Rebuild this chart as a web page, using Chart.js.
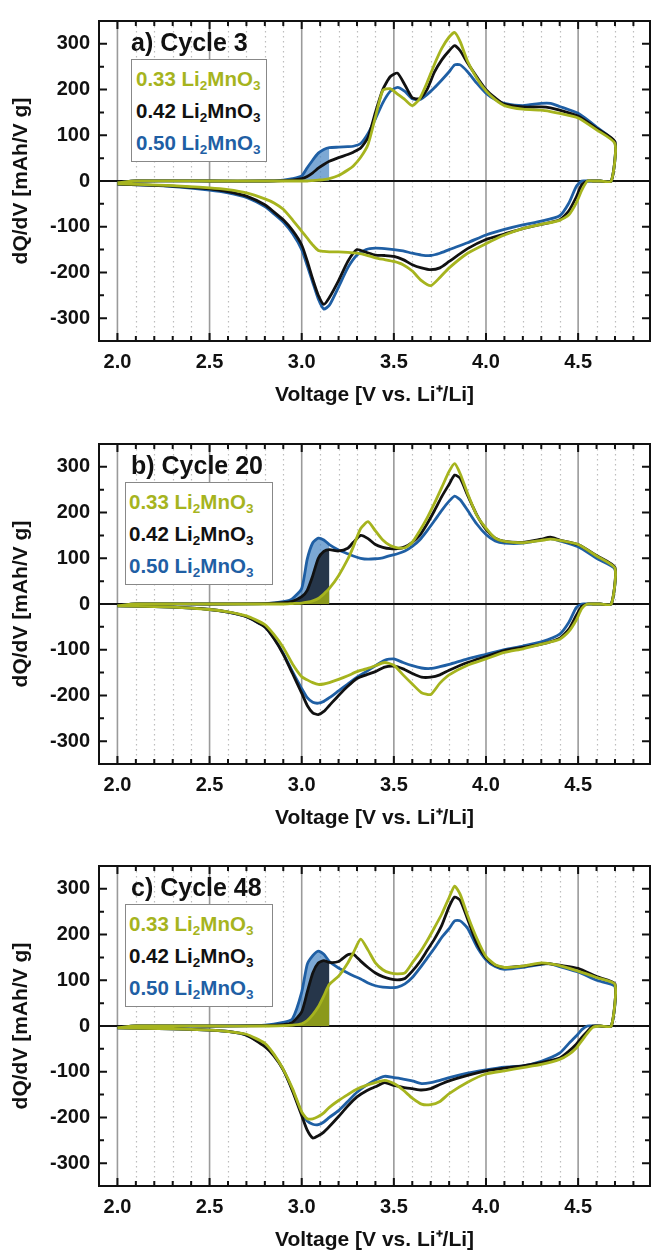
<!DOCTYPE html>
<html>
<head>
<meta charset="utf-8">
<title>dQ/dV curves, cycles 3, 20 and 48</title>
<script src="https://cdn.jsdelivr.net/npm/chart.js@4.4.1/dist/chart.umd.min.js"></script>
<style>
  html, body { margin: 0; padding: 0; background: #fff; }
  body { position: relative; width: 651px; height: 1255px; overflow: hidden;
         font-family: "Liberation Sans", Arial, Helvetica, sans-serif; font-weight: bold; }
  .panel { position: absolute; left: 0; width: 651px; height: 422px; }
  .panel canvas { position: absolute; left: 0; top: 0; }
  .tag { position: absolute; left: 131px; top: 28px; font-size: 25px; line-height: 28px; color: #111; white-space: nowrap; }
  .box { position: absolute; top: 59px; height: 103px; border: 1.5px solid #888; background: #fff; box-sizing: border-box; }
  .row { position: absolute; font-size: 20.5px; line-height: 24px; white-space: nowrap; }
  .row sub { font-size: 13.5px; line-height: 0; vertical-align: -4px; }
</style>
</head>
<body>
<script>
"use strict";

// 1: data - shared voltage grids (V)
const chargeV = [2.0, 2.1, 2.5, 2.8, 2.9, 2.95, 3.0, 3.03, 3.06, 3.09, 3.12, 3.15, 3.2, 3.25, 3.28, 3.32, 3.36, 3.4, 3.44, 3.48,
  3.52, 3.56, 3.6, 3.64, 3.68, 3.72, 3.76, 3.8, 3.83, 3.86, 3.9, 3.95, 4.0, 4.05, 4.1, 4.2, 4.3, 4.35, 4.4, 4.5, 4.6, 4.7];
const dischargeV = [4.68, 4.62, 4.58, 4.55, 4.52, 4.49, 4.45, 4.4, 4.3, 4.2, 4.1, 4.0, 3.9, 3.8, 3.75, 3.7, 3.65, 3.6, 3.55, 3.5,
  3.45, 3.4, 3.35, 3.3, 3.25, 3.2, 3.15, 3.12, 3.09, 3.06, 3.03, 3.0, 2.95, 2.9, 2.85, 2.8, 2.7, 2.6, 2.5, 2.3, 2.0];

// a) cycle 3, dQ/dV in mAh/V g
const a33Charge = [-4, 0, 0, 0, 0, 0, 0, 0, 1, 2, 3, 5, 12, 24, 33, 52, 80, 140, 198, 202,
  190, 178, 165, 180, 215, 255, 290, 315, 325, 305, 262, 225, 197, 178, 165, 157, 155, 152, 148, 138, 112, 82];
const a42Charge = [-4, 0, 0, 0, 1, 2, 5, 10, 18, 28, 36, 43, 51, 58, 63, 72, 95, 150, 200, 228,
  236, 210, 182, 180, 200, 238, 265, 285, 296, 285, 258, 228, 200, 182, 168, 162, 162, 160, 155, 142, 115, 86];
const a50Charge = [-4, 0, 0, 0, 2, 5, 11, 29, 46, 61, 69, 73, 74, 75, 76, 82, 104, 136, 171, 196,
  205, 196, 180, 178, 189, 204, 221, 239, 254, 254, 239, 214, 192, 178, 170, 165, 170, 170, 163, 148, 118, 84];
const a33Discharge = [0, 0, 0, 0, -20, -48, -74, -86, -95, -104, -118, -137, -158, -190, -211, -229, -218, -197, -183, -176,
  -172, -168, -162, -158, -156, -155, -155, -154, -152, -140, -125, -110, -85, -62, -48, -39, -26, -19, -15, -10, -6];
const a42Discharge = [0, 0, 0, 0, -8, -35, -65, -85, -95, -104, -116, -128, -148, -176, -190, -194, -190, -183, -172, -165,
  -163, -162, -156, -150, -176, -218, -255, -270, -250, -215, -175, -140, -108, -85, -68, -52, -33, -23, -17, -11, -7];
const a50Discharge = [0, 0, 0, 0, 0, -12, -48, -76, -88, -96, -106, -118, -135, -150, -158, -163, -162, -158, -153, -150,
  -148, -147, -150, -162, -190, -232, -272, -280, -258, -222, -185, -150, -115, -90, -72, -56, -36, -26, -20, -12, -7];

// b) cycle 20
const b33Charge = [-4, 0, 0, 0, 0, 1, 2, 4, 7, 12, 22, 34, 62, 98, 125, 165, 180, 160, 140, 128,
  123, 123, 135, 160, 188, 220, 255, 290, 307, 285, 242, 194, 166, 144, 137, 134, 139, 142, 139, 130, 105, 78];
const b42Charge = [-4, 0, 0, 1, 3, 6, 16, 30, 62, 100, 115, 119, 116, 122, 135, 150, 143, 130, 124, 121,
  121, 125, 135, 150, 175, 204, 235, 262, 282, 275, 238, 195, 163, 144, 137, 135, 142, 146, 140, 130, 106, 80];
const b50Charge = [-4, 0, 0, 1, 5, 12, 34, 98, 134, 144, 140, 130, 118, 110, 105, 100, 98, 99, 101, 106,
  110, 116, 126, 140, 160, 182, 205, 225, 236, 228, 205, 175, 152, 138, 133, 133, 140, 143, 138, 125, 100, 76];
const b33Discharge = [0, 0, 0, 0, -10, -35, -60, -77, -88, -98, -106, -120, -134, -155, -173, -198, -194, -175, -155, -134,
  -128, -135, -142, -148, -157, -165, -172, -175, -176, -172, -166, -159, -131, -95, -67, -45, -26, -17, -12, -7, -4];
const b42Discharge = [0, 0, 0, 0, -5, -25, -55, -75, -88, -95, -102, -115, -128, -145, -155, -160, -160, -152, -142, -136,
  -138, -148, -155, -163, -180, -200, -222, -235, -242, -238, -222, -195, -152, -110, -76, -50, -28, -18, -12, -7, -4];
const b50Discharge = [0, 0, 0, 0, 0, -8, -40, -66, -83, -92, -100, -110, -120, -132, -137, -141, -140, -135, -128, -120,
  -123, -135, -148, -160, -175, -190, -205, -213, -217, -215, -205, -185, -148, -108, -75, -50, -28, -18, -12, -7, -4];

// c) cycle 48
const c33Charge = [-4, 0, 0, 0, 1, 2, 5, 12, 25, 42, 66, 91, 109, 138, 160, 190, 166, 138, 123, 116,
  114, 116, 138, 160, 186, 215, 245, 281, 306, 288, 242, 192, 152, 134, 128, 131, 138, 136, 132, 120, 106, 91];
const c42Charge = [-4, 0, 0, 1, 3, 8, 31, 74, 116, 138, 143, 139, 141, 156, 157, 142, 128, 116, 108, 103,
  101, 104, 120, 140, 165, 190, 220, 261, 282, 275, 234, 181, 149, 133, 128, 131, 136, 136, 133, 126, 108, 92];
const c50Charge = [-4, 0, 0, 2, 8, 16, 74, 135, 154, 164, 157, 141, 127, 116, 110, 103, 94, 88, 85, 84,
  85, 92, 106, 126, 148, 170, 194, 213, 230, 230, 214, 174, 145, 130, 124, 128, 135, 136, 130, 118, 100, 86];
const c33Discharge = [0, 0, -3, -16, -32, -48, -62, -73, -84, -91, -98, -105, -123, -148, -165, -172, -171, -158, -140, -126,
  -119, -124, -130, -138, -150, -163, -178, -190, -198, -203, -203, -188, -137, -95, -62, -38, -18, -12, -9, -6, -4];
const c42Discharge = [0, 0, 0, -12, -25, -40, -55, -70, -80, -87, -92, -98, -108, -120, -128, -137, -140, -137, -134, -130,
  -124, -133, -142, -155, -175, -198, -220, -232, -240, -245, -228, -196, -142, -96, -66, -45, -20, -12, -9, -6, -4];
const c50Discharge = [0, 0, 0, 0, -8, -22, -38, -59, -77, -87, -90, -96, -103, -113, -119, -124, -126, -120, -116, -113,
  -110, -118, -130, -145, -165, -185, -200, -210, -216, -215, -208, -190, -140, -96, -64, -42, -20, -12, -9, -6, -4];

// legend / tick labels
const seriesNames = ['0.33', '0.42', '0.50'];
const xLabels = [2.0, 2.5, 3.0, 3.5, 4.0, 4.5];
const yLabels = [-300, -200, -100, 0, 100, 200, 300];
const fillCutoff = 3.15;

// 2: styling
const lineColors = ['#a6b41e', '#111111', '#1f5fa4'];
const fillColors = ['#8b991b', '#26364a', 'rgba(74,134,196,0.72)'];
const fontFamily = '"Liberation Sans", Arial, Helvetica, sans-serif';

const minorX = [];
for (let i = 20; i <= 48; i++) minorX.push(i / 10);
const minorY = [];
for (let v = -350; v <= 350; v += 50) minorY.push(v);

const panels = [
  { key: 'a', top: 0, tag: 'a) Cycle 3', boxLeft: 131, boxWidth: 136, textLeft: 136,
    series: [[a33Charge, a33Discharge], [a42Charge, a42Discharge], [a50Charge, a50Discharge]], fills: [false, false, true] },
  { key: 'b', top: 423, tag: 'b) Cycle 20', boxLeft: 125, boxWidth: 148, textLeft: 129,
    series: [[b33Charge, b33Discharge], [b42Charge, b42Discharge], [b50Charge, b50Discharge]], fills: [true, true, true] },
  { key: 'c', top: 845, tag: 'c) Cycle 48', boxLeft: 125, boxWidth: 148, textLeft: 129,
    series: [[c33Charge, c33Discharge], [c42Charge, c42Discharge], [c50Charge, c50Discharge]], fills: [true, true, true] }
];

// grid, zero line, frame and inward ticks
const frameAndGrid = {
  id: 'frameAndGrid',
  beforeDatasetsDraw(chart) {
    const { ctx, chartArea: a, scales: { x, y } } = chart;
    ctx.save();
    ctx.lineWidth = 1.2;
    ctx.strokeStyle = '#bdbdbd';
    ctx.setLineDash([1.5, 3.5]);
    for (const v of minorX) {
      if (xLabels.includes(v)) continue;
      const px = Math.round(x.getPixelForValue(v)) + 0.5;
      ctx.beginPath(); ctx.moveTo(px, a.top); ctx.lineTo(px, a.bottom); ctx.stroke();
    }
    ctx.setLineDash([]);
    ctx.strokeStyle = '#9a9a9a';
    ctx.lineWidth = 1.6;
    for (const v of xLabels) {
      const px = x.getPixelForValue(v);
      ctx.beginPath(); ctx.moveTo(px, a.top); ctx.lineTo(px, a.bottom); ctx.stroke();
    }
    const py = y.getPixelForValue(0);
    ctx.strokeStyle = '#111';
    ctx.lineWidth = 2;
    ctx.beginPath(); ctx.moveTo(a.left, py); ctx.lineTo(a.right, py); ctx.stroke();
    ctx.restore();
  },
  afterDraw(chart) {
    const { ctx, chartArea: a, scales: { x, y } } = chart;
    ctx.save();
    ctx.strokeStyle = '#111';
    ctx.lineWidth = 2;
    ctx.strokeRect(a.left, a.top, a.right - a.left, a.bottom - a.top);
    for (const v of minorX) {
      const px = x.getPixelForValue(v);
      const len = xLabels.includes(v) ? 8 : 5;
      ctx.beginPath();
      ctx.moveTo(px, a.bottom); ctx.lineTo(px, a.bottom - len);
      ctx.moveTo(px, a.top); ctx.lineTo(px, a.top + len);
      ctx.stroke();
    }
    for (const v of minorY) {
      const py = y.getPixelForValue(v);
      const len = v % 100 === 0 ? 8 : 5;
      ctx.beginPath();
      ctx.moveTo(a.left, py); ctx.lineTo(a.left + len, py);
      ctx.moveTo(a.right, py); ctx.lineTo(a.right - len, py);
      ctx.stroke();
    }
    ctx.restore();
  }
};

function toPoints(xs, ys) {
  return xs.map((v, i) => ({ x: v, y: ys[i] }));
}

// 3: build one panel
function makePanel(p) {
  const div = document.createElement('div');
  div.className = 'panel';
  div.style.top = p.top + 'px';
  const canvas = document.createElement('canvas');
  canvas.width = 651;
  canvas.height = 422;
  div.appendChild(canvas);

  const tag = document.createElement('div');
  tag.className = 'tag';
  tag.textContent = p.tag;
  div.appendChild(tag);

  const box = document.createElement('div');
  box.className = 'box';
  box.style.left = p.boxLeft + 'px';
  box.style.width = p.boxWidth + 'px';
  div.appendChild(box);
  seriesNames.forEach((name, i) => {
    const row = document.createElement('div');
    row.className = 'row';
    row.style.left = p.textLeft + 'px';
    row.style.top = (67 + i * 32) + 'px';
    row.style.color = lineColors[i];
    row.innerHTML = name + ' Li<sub>2</sub>MnO<sub>3</sub>';
    div.appendChild(row);
  });
  document.body.appendChild(div);

  // shaded onset areas: blue at the back, then black, then green in front
  const cut = chargeV.indexOf(fillCutoff) + 1;
  const datasets = [];
  p.series.forEach((s, i) => {
    if (p.fills[i]) {
      datasets.push({
        data: toPoints(chargeV.slice(0, cut), s[0].slice(0, cut)),
        showLine: true, borderWidth: 0, pointRadius: 0, tension: 0.25,
        fill: 'origin', backgroundColor: fillColors[i], order: 8 + i
      });
    }
  });
  p.series.forEach((s, i) => {
    datasets.push({
      data: toPoints(chargeV, s[0]).concat(toPoints(dischargeV, s[1])),
      showLine: true, borderColor: lineColors[i], borderWidth: 2.8,
      pointRadius: 0, tension: 0.2, fill: false, order: 1 + i
    });
  });

  new Chart(canvas, {
    type: 'scatter',
    data: { datasets },
    options: {
      responsive: false,
      animation: false,
      layout: { padding: { top: 13, right: 1, left: 0, bottom: 0 } },
      plugins: { legend: { display: false }, tooltip: { enabled: false } },
      scales: {
        x: {
          type: 'linear', min: 1.9, max: 4.89,
          afterBuildTicks: s => { s.ticks = xLabels.map(v => ({ value: v })); },
          afterFit: s => { s.height = 81; },
          grid: { display: false, drawTicks: false },
          border: { display: false },
          ticks: { color: '#111', padding: 9, maxRotation: 0, autoSkip: false,
                   font: { family: fontFamily, size: 20, weight: 'bold' },
                   callback: v => v.toFixed(1) },
          title: { display: true, text: 'Voltage [V vs. Li\u207A/Li]', color: '#111',
                   font: { family: fontFamily, size: 21, weight: 'bold' },
                   padding: { top: 0, bottom: 14 } }
        },
        y: {
          min: -350, max: 350,
          afterBuildTicks: s => { s.ticks = yLabels.map(v => ({ value: v })); },
          afterFit: s => { s.width = 99; },
          grid: { display: false, drawTicks: false },
          border: { display: false },
          ticks: { color: '#111', padding: 9,
                   font: { family: fontFamily, size: 20, weight: 'bold' },
                   callback: v => String(v) },
          title: { display: true, text: 'dQ/dV [mAh/V g]', color: '#111',
                   font: { family: fontFamily, size: 21, weight: 'bold' },
                   padding: { top: 9, bottom: 0 } }
        }
      }
    },
    plugins: [frameAndGrid]
  });
}

panels.forEach(makePanel);
</script>
</body>
</html>
